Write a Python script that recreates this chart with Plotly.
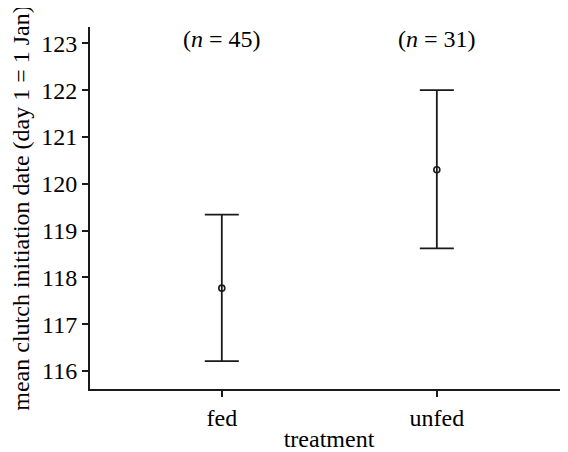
import plotly.graph_objects as go

treatments = ["fed", "unfed"]
means = [117.77, 120.30]
upper = [119.34, 122.00]
lower = [116.21, 118.62]
n_labels = ["(<i>n</i> = 45)", "(<i>n</i> = 31)"]
y_ticks = [116, 117, 118, 119, 120, 121, 122, 123]

err_plus = [u - m for u, m in zip(upper, means)]
err_minus = [m - l for m, l in zip(means, lower)]

font_family = "Liberation Serif"
ink = "#1a1a1a"
fs = 24

fig = go.Figure()
fig.add_trace(go.Scatter(
    x=treatments, y=means, mode="markers",
    marker=dict(symbol="circle-open", size=6, color=ink, line=dict(width=1.6, color=ink)),
    error_y=dict(type="data", array=err_plus, arrayminus=err_minus,
                 color=ink, thickness=1.8, width=17, visible=True),
    showlegend=False,
))

for t, lab in zip(treatments, n_labels):
    fig.add_annotation(x=t, y=123.1, xref="x", yref="y", text=lab,
                       showarrow=False, font=dict(family=font_family, size=fs, color="black"))

# page body has an 8px default margin, so compensate
fig.update_layout(
    width=560, height=444,
    margin=dict(l=82, r=0, t=19, b=63, autoexpand=False),
    paper_bgcolor="white", plot_bgcolor="white",
    font=dict(family=font_family, size=fs, color="black"),
)
fig.update_xaxes(
    type="category", range=[-0.613, 1.61],
    showline=True, linecolor=ink, linewidth=2,
    ticks="outside", ticklen=6, tickwidth=1.6, tickcolor=ink,
    showgrid=False, zeroline=False, automargin=False,
    title=dict(text="treatment", standoff=2, font=dict(size=fs)),
    tickfont=dict(size=fs),
)
fig.update_yaxes(
    range=[115.616, 123.348],
    tickvals=y_ticks,
    showline=True, linecolor=ink, linewidth=2,
    ticks="outside", ticklen=6, tickwidth=1.6, tickcolor=ink,
    showgrid=False, zeroline=False, automargin=False,
    title=dict(text="mean clutch initiation date (day 1 = 1 Jan)", standoff=6, font=dict(size=fs)),
    tickfont=dict(size=fs),
)

fig.write_html("out.html")
